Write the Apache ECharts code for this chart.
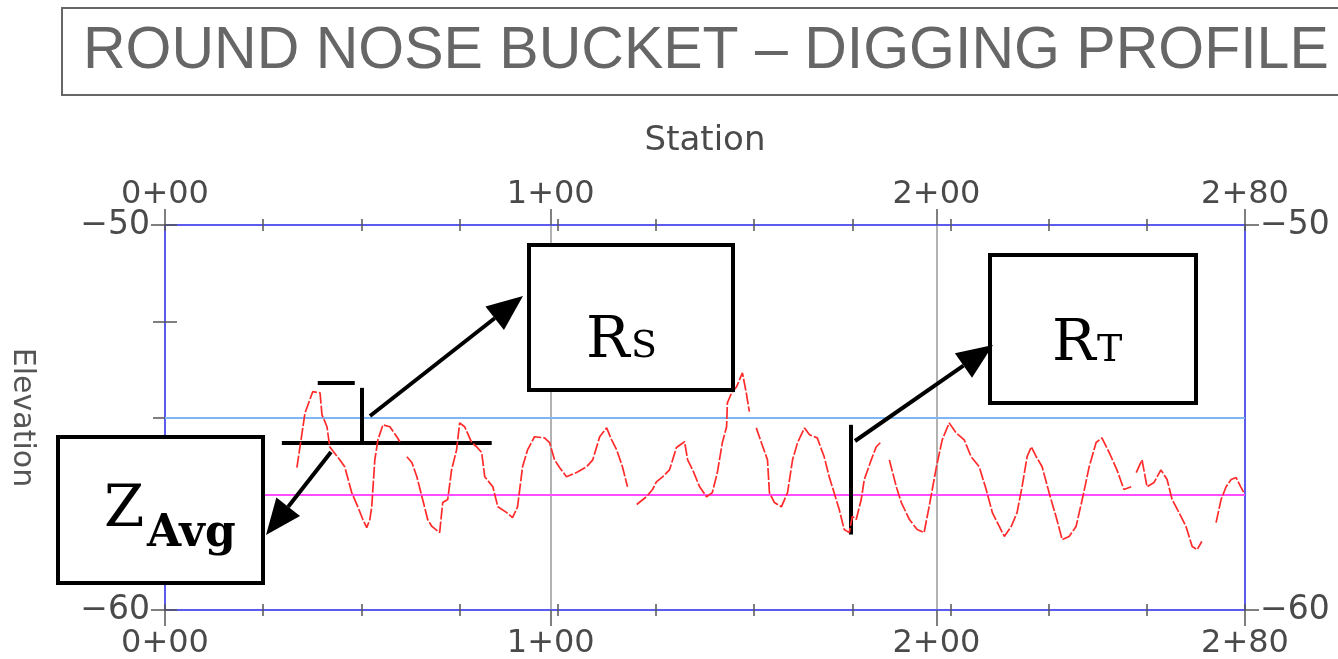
<!DOCTYPE html>
<html>
<head>
<meta charset="utf-8">
<script src="https://cdn.jsdelivr.net/npm/echarts@6/dist/echarts.min.js"></script>
<style>
html,body{margin:0;padding:0;background:#fff;}
#chart{width:1338px;height:659px;}
</style>
</head>
<body>
<div id="chart"></div>
<script>
// ---- data ----
const stationTicks = [0, 100, 200, 280];
const elevationRange = [-60, -50];
const avgElevation = -57;     // magenta line
const refElevation = -55;     // light blue line
// profile stations (ft) and elevations; null = gap in trace
const stations = [
 34.2,36.3,38.3,40.2,40.7,42.0,42.7,45.3,46.6,48.4,50.0,51.3,52.3,53.1,53.6,54.4,55.2,56.5,58.3,60.1,60.9,
 61.8,
 62.7,64.0,65.3,66.8,68.1,69.2,71.2,72.0,73.3,74.3,75.6,76.4,77.7,79.5,80.8,82.1,82.9,85.0,86.3,88.6,90.1,91.4,92.7,94.0,95.8,98.4,99.7,
 101.0,102.3,104.1,106.7,109.3,110.9,112.7,114.5,115.8,117.1,118.6,119.9,
 121.1,
 122.3,124.8,126.4,127.4,129.0,130.8,132.6,134.7,135.5,136.8,138.6,140.4,141.9,143.2,144.5,145.6,145.8,146.9,148.2,149.7,150.7,151.5,
 152.4,
 153.3,154.6,156.2,156.7,158.0,159.8,161.4,162.7,164.0,165.8,167.1,169.1,170.9,172.2,173.0,174.8,176.1,177.4,178.2,179.2,180.5,181.3,183.1,184.4,185.7,
 186.7,
 187.8,189.6,190.9,193.0,195.0,196.8,198.1,200.0,201.5,203.3,205.1,207.2,209.0,211.1,212.9,214.5,216.3,217.6,219.4,220.9,222.2,223.5,224.6,225.9,227.4,
 229.2,231.0,232.6,234.4,236.2,237.8,239.6,241.4,242.9,244.8,246.8,248.6,250.5,
 251.1,
 251.8,253.3,254.6,256.4,258.2,259.8,261.1,262.9,264.7,266.3,267.6,268.8,
 270.6,
 272.5,273.8,275.1,276.4,277.7,278.9,279.7
];
const elevations = [
 -56.30,-54.88,-54.33,-54.36,-54.93,-55.24,-55.76,-56.10,-56.28,-56.95,-57.32,-57.65,-57.86,-57.65,-57.32,-56.10,-55.58,-55.19,-55.24,-55.50,-55.63,
 null,
 -56.02,-56.17,-56.54,-57.13,-57.65,-57.83,-57.99,-57.21,-57.13,-56.36,-55.84,-55.14,-55.24,-55.65,-55.76,-55.91,-56.54,-56.80,-57.32,-57.47,-57.60,-57.32,-56.28,-55.84,-55.50,-55.53,-55.65,
 -56.10,-56.30,-56.54,-56.43,-56.28,-56.10,-55.50,-55.27,-55.58,-55.84,-56.28,-56.80,
 null,
 -57.26,-57.06,-56.87,-56.67,-56.54,-56.36,-55.78,-55.63,-56.10,-56.36,-56.80,-57.06,-56.95,-56.43,-55.65,-55.24,-54.62,-54.36,-54.20,-53.84,-54.36,-54.85,
 null,
 -55.27,-55.65,-56.10,-56.95,-57.21,-57.32,-56.95,-56.10,-55.65,-55.27,-55.45,-55.53,-56.02,-56.54,-56.80,-57.39,-57.91,-57.99,-57.57,-57.65,-57.13,-56.61,-56.10,-55.76,-55.63,
 null,
 -56.10,-56.80,-57.21,-57.65,-57.91,-57.99,-57.32,-56.28,-55.58,-55.14,-55.40,-55.58,-56.02,-56.28,-56.87,-57.47,-57.83,-58.09,-57.83,-57.47,-56.80,-56.02,-55.76,-56.02,-56.28,
 -56.95,-57.57,-58.17,-58.09,-57.83,-57.13,-56.28,-55.65,-55.53,-55.91,-56.36,-56.87,-56.80,
 null,
 -56.43,-56.10,-56.80,-56.69,-56.36,-56.61,-57.13,-57.47,-57.83,-58.35,-58.43,-58.22,
 null,
 -57.73,-57.13,-56.80,-56.61,-56.56,-56.80,-56.95
];
// annotation guide lines (station, elevation)
const rsHoriz = [[30.3, -55.66], [84.7, -55.66]];
const rsVert = [[51.0, -54.23], [51.0, -55.66]];
const rsDash = [[39.6, -54.10], [49.2, -54.10]];
const rtVert = [[177.9, -55.19], [177.9, -58.04]];

function stationLabel(v) {
  const h = Math.floor(v / 100), r = Math.round(v % 100);
  return h + '+' + (r < 10 ? '0' + r : r);
}
function elevLabel(v) { return v < 0 ? '\u2212' + Math.abs(v) : String(v); }

const chart = echarts.init(document.getElementById('chart'), null, {renderer: 'canvas'});
const BLUE = '#5b5bf0', TICK = '#555', LAB = '#4a4a4a';
const FONT = 'DejaVu Sans';
const profile = stations.map((s, i) => [s, elevations[i] === null ? '-' : elevations[i]]);

const majorX = (pos) => ({
  type: 'value', position: pos, min: 0, max: 280, interval: 100,
  axisLine: {show: true, onZero: false, lineStyle: {color: BLUE, width: 2}},
  axisTick: {show: true, length: 16, lineStyle: {color: TICK, width: 1.5}},
  axisLabel: {show: true, formatter: stationLabel, margin: pos === 'top' ? 14 : 18, color: LAB, fontSize: 32, fontFamily: FONT, showMaxLabel: true, showMinLabel: true},
  splitLine: {show: pos === 'bottom', lineStyle: {color: '#999', width: 1.5}}
});
const minorX = (pos) => ({
  type: 'value', position: pos, min: 0, max: 275, interval: 25, offset: 6,
  axisLine: {show: false}, axisLabel: {show: false}, splitLine: {show: false},
  axisTick: {show: true, inside: true, length: 12, lineStyle: {color: TICK, width: 1.5}}
});
const majorY = (pos) => ({
  type: 'value', position: pos, min: elevationRange[0], max: elevationRange[1], interval: 10,
  axisLine: {show: true, onZero: false, lineStyle: {color: BLUE, width: 2}},
  axisTick: {show: true, length: 14, lineStyle: {color: TICK, width: 1.5}},
  axisLabel: {show: true, formatter: elevLabel, margin: 15, color: LAB, fontSize: 33, fontFamily: FONT},
  splitLine: {show: false}
});
const minorY = (pos) => ({
  type: 'value', position: pos, min: -60, max: -50, interval: 2.5, offset: 6,
  axisLine: {show: false}, axisLabel: {show: false}, splitLine: {show: false},
  axisTick: {show: true, inside: true, length: 12, lineStyle: {color: TICK, width: 1.5}}
});

const xTop = majorX('top');
xTop.name = 'Station'; xTop.nameLocation = 'middle'; xTop.nameGap = 67;
xTop.nameTextStyle = {color: LAB, fontSize: 34, fontFamily: FONT};
const yLeft = majorY('left');
yLeft.name = 'Elevation'; yLeft.nameLocation = 'middle'; yLeft.nameRotate = -90; yLeft.nameGap = 128;
yLeft.nameTextStyle = {color: '#555', fontSize: 30, fontFamily: FONT};

const blackLine = (pair) => [{coord: pair[0]}, {coord: pair[1]}];

// arrows / boxes (pixel annotations)
function arrow(x1, y1, x2, y2) {
  const ang = Math.atan2(y2 - y1, x2 - x1), L = 36, W = 15;
  const bx = x2 - L * Math.cos(ang), by = y2 - L * Math.sin(ang);
  const px = -Math.sin(ang) * W, py = Math.cos(ang) * W;
  return [
    {type: 'line', shape: {x1: x1, y1: y1, x2: bx, y2: by}, style: {stroke: '#000', lineWidth: 4}, z: 100},
    {type: 'polygon', shape: {points: [[x2, y2], [bx + px, by + py], [bx - px, by - py]]}, style: {fill: '#000'}, z: 100}
  ];
}
function box(x, y, w, h) {
  return {type: 'rect', shape: {x: x, y: y, width: w, height: h}, style: {fill: '#fff', stroke: '#000', lineWidth: 4}, z: 100};
}
function txt(x, y, t, size, weight) {
  return {type: 'text', x: x, y: y, z: 101, style: {text: t, fill: '#000', font: (weight || 'normal') + ' ' + size + 'px "DejaVu Serif"', verticalAlign: 'middle', align: 'left'}};
}

const graphic = [
  {type: 'rect', shape: {x: 62, y: 8, width: 1300, height: 87}, style: {fill: 'none', stroke: '#666', lineWidth: 2}},
  {type: 'text', x: 83, y: 52, style: {text: 'ROUND NOSE BUCKET \u2013 DIGGING PROFILE', fill: '#666', font: '59px "Liberation Sans"', verticalAlign: 'middle'}},
  box(529, 245, 204, 145),
  box(990, 255, 206, 148),
  box(58, 437, 205, 146),
  txt(586, 342, 'R', 58), txt(631, 347, 'S', 38),
  txt(1052, 345, 'R', 58), txt(1097, 351, 'T', 38),
  txt(104, 511, 'Z', 58), txt(147, 535, 'Avg', 44, 'bold')
].concat(arrow(370, 416, 523, 296), arrow(331, 452, 266, 535), arrow(855, 441, 993, 345));

chart.setOption({
  animation: false,
  backgroundColor: '#fff',
  grid: {left: 165, right: 93, top: 225, bottom: 49, containLabel: false, outerBoundsMode: 'none'},
  xAxis: [majorX('bottom'), xTop, minorX('bottom'), minorX('top')],
  yAxis: [yLeft, majorY('right'), minorY('left'), minorY('right')],
  graphic: graphic,
  series: [
    {
      type: 'line', xAxisIndex: 0, yAxisIndex: 0, data: profile, showSymbol: false, connectNulls: false,
      lineStyle: {color: '#ff2b2b', width: 1.7, type: [12, 2]}, z: 5,
      markLine: {
        silent: true, symbol: 'none', label: {show: false}, animation: false,
        data: [
          {yAxis: refElevation, lineStyle: {color: '#7fb5f2', width: 2, type: 'solid'}},
          {yAxis: avgElevation, lineStyle: {color: '#ff4dff', width: 2, type: 'solid'}}
        ]
      }
    },
    {
      type: 'line', xAxisIndex: 0, yAxisIndex: 0, data: [], z: 20,
      markLine: {
        silent: true, symbol: 'none', label: {show: false}, animation: false,
        lineStyle: {color: '#000', width: 4, type: 'solid'},
        data: [blackLine(rsHoriz), blackLine(rsVert), blackLine(rsDash), blackLine(rtVert)]
      }
    }
  ]
});
</script>
</body>
</html>
